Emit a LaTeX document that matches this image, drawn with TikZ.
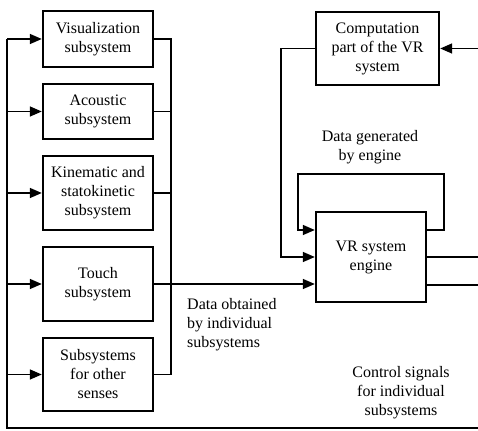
\documentclass[tikz,border=0pt]{standalone}
\usepackage{fontspec}
\setmainfont{Liberation Serif}
\usetikzlibrary{arrows.meta,calc}
\begin{document}
\begin{tikzpicture}[x=1pt,y=1pt,
  box/.style={draw,line width=2.4pt,inner sep=0pt,align=center,font=\fontsize{16}{19}\selectfont},
  lbl/.style={inner sep=0pt,align=center,font=\fontsize{16}{19}\selectfont},
  conn/.style={line width=1.5pt},
  arr/.style={conn,-{Triangle[length=12pt,width=10pt]}}]
\useasboundingbox (0,0) rectangle (478,430);
% left boxes
\node[box,minimum width=110pt,minimum height=56pt] (vis) at (98,391) {Visualization\\subsystem};
\node[box,minimum width=110pt,minimum height=55pt] (aco) at (98,318.5) {Acoustic\\subsystem};
\node[box,minimum width=110pt,minimum height=74pt] (kin) at (98,237) {Kinematic and\\statokinetic\\subsystem};
\node[box,minimum width=110pt,minimum height=74pt] (tou) at (98,146) {Touch\\subsystem};
\node[box,minimum width=110pt,minimum height=73pt] (oth) at (98,55.5) {Subsystems\\for other\\senses};
% right boxes
\node[box,minimum width=123pt,minimum height=73pt] (comp) at (377.5,381.5) {Computation\\part of the VR\\system};
\node[box,minimum width=110pt,minimum height=90pt] (eng) at (371,173) {VR system\\engine};
% labels
\node[lbl] (lgen) at (370,283) {Data generated\\by engine};
\node[lbl,anchor=west,align=left] (lobt) at (187,105) {Data obtained\\by individual\\subsystems};
\node[lbl] (lctl) at (401,37) {Control signals\\for individual\\subsystems};
% coordinates
\coordinate (BL) at (7,2);
\coordinate (BR) at (478,2);
\coordinate (bus) at (171,0);
\coordinate (cx) at (281,0);
\coordinate (fbL) at (298,256);
\coordinate (fbR) at (444,256);
\coordinate (inC) at (478,381.5);
\coordinate (o1) at (478,173);
\coordinate (o2) at (478,145);
% control signal return line
\draw[conn] (BR) -- (BL) -- (BL |- vis.west);
\draw[arr] (BL |- vis.west) -- (vis.west);
\draw[arr] (BL |- aco.west) -- (aco.west);
\draw[arr] (BL |- kin.west) -- (kin.west);
\draw[arr] (BL |- tou.west) -- (tou.west);
\draw[arr] (BL |- oth.west) -- (oth.west);
% right bus
\draw[conn] (vis.east) -- (vis.east -| bus) -- (oth.east -| bus) -- (oth.east);
\draw[conn] (aco.east) -- (aco.east -| bus);
\draw[conn] (kin.east) -- (kin.east -| bus);
\draw[arr] (tou.east) -- (eng.west |- tou.east);
% computation
\draw[arr] (inC) -- (comp.east);
\draw[arr] (comp.west) -- (comp.west -| cx) -- (eng.west -| cx) -- (eng.west);
% feedback loop
\draw[arr] ([yshift=27pt]eng.east) -- ([yshift=27pt]eng.east -| fbR) -- (fbR) -- (fbL) -- ([yshift=27pt]eng.west -| fbL) -- ([yshift=27pt]eng.west);
% outputs
\draw[conn] (eng.east) -- (o1);
\draw[conn] ([yshift=-28pt]eng.east) -- (o2);
\end{tikzpicture}
\end{document}
